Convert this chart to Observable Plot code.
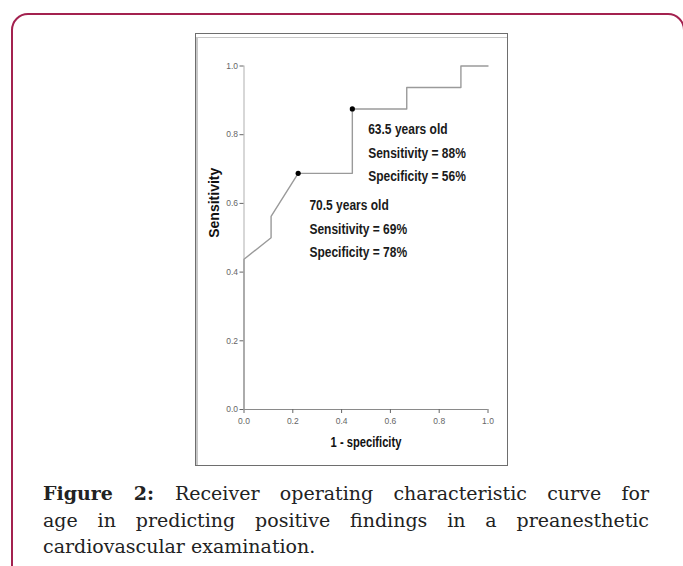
<!DOCTYPE html>
<html>
<head>
<meta charset="utf-8">
<script src="https://cdn.jsdelivr.net/npm/d3@7"></script>
<script src="https://cdn.jsdelivr.net/npm/@observablehq/plot@0.6"></script>
<style>
  html, body { margin: 0; padding: 0; background: #fff; }
  body { position: relative; width: 683px; height: 566px; overflow: hidden; }
  #card { position: absolute; left: 11px; top: 13px; width: 674px; height: 620px;
          border: 2px solid #a3214f; border-radius: 17px; box-sizing: border-box; }
  #frame { position: absolute; left: 195px; top: 33px; width: 313px; height: 433px;
           box-sizing: border-box; border: 1.5px solid #6e6e6e;
           box-shadow: inset 0 3px 0 #fff, inset 0 4px 0 #c8c8c8, inset 2px 0 0 #c8c8c8; }
  #chart { position: absolute; left: 195px; top: 30px; }
  #caption { position: absolute; left: 43px; top: 480px; width: 606px;
             font-family: "DejaVu Serif", serif; font-size: 19px; line-height: 26.5px; color: #222; }
  #caption div { text-align: justify; text-align-last: justify; white-space: nowrap; }
  #caption div.last { text-align-last: left; }
</style>
</head>
<body>
<div id="card"></div>
<div id="frame"></div>
<div id="chart"></div>
<div id="caption"></div>
<script>
// ROC curve points (1 - specificity, sensitivity)
const fpr = [0, 0, 0.111, 0.111, 0.222, 0.444, 0.444, 0.667, 0.667, 0.889, 0.889, 1];
const tpr = [0, 0.4375, 0.5, 0.5625, 0.6875, 0.6875, 0.875, 0.875, 0.9375, 0.9375, 1, 1];

// highlighted cut-off points
const cutAges = ["70.5", "63.5"];
const cutFpr = [0.222, 0.444];
const cutTpr = [0.6875, 0.875];
const cutSens = ["69%", "88%"];
const cutSpec = ["78%", "56%"];
// annotation anchor (data units)
const annX = [0.268, 0.509];
const annY = [0.534, 0.755];

const tickValues = [0, 0.2, 0.4, 0.6, 0.8, 1.0];
const xLabel = "1 - specificity";
const yLabel = "Sensitivity";
const captionBold = "Figure 2:";
const captionLines = [
  "Receiver operating characteristic curve for",
  "age in predicting positive findings in a preanesthetic",
  "cardiovascular examination."
];

const curve = fpr.map((x, i) => ({x, y: tpr[i]}));
const cuts = cutAges.map((a, i) => ({x: cutFpr[i], y: cutTpr[i]}));
const notes = cutAges.map((a, i) => ({
  x: annX[i], y: annY[i],
  text: `${a} years old\nSensitivity = ${cutSens[i]}\nSpecificity = ${cutSpec[i]}`
}));

const sans = "'Liberation Sans', Arial, sans-serif";

const plot = Plot.plot({
  width: 313,
  height: 436,
  marginLeft: 48.5,
  marginRight: 20.5,
  marginTop: 35.5,
  marginBottom: 57,
  style: { background: "transparent", fontFamily: sans, overflow: "visible" },
  x: { domain: [0, 1] },
  y: { domain: [0, 1] },
  marks: [
    Plot.ruleX([0], { y1: 0, y2: 1, stroke: "#bdbdbd", strokeWidth: 1.2 }),
    Plot.ruleY([0], { stroke: "#8a8a8a", strokeWidth: 1.2 }),
    Plot.axisY({ ticks: tickValues, tickFormat: d => d.toFixed(1), tickSize: 4, tickPadding: 2,
                 fontSize: 8.5, color: "#666", label: null }),
    Plot.axisX({ ticks: tickValues, tickFormat: d => d.toFixed(1), tickSize: 4, tickPadding: 4,
                 fontSize: 8.5, color: "#666", label: null }),
    Plot.line(curve, { x: "x", y: "y", stroke: "#9a9a9a", strokeWidth: 1.4 }),
    Plot.dot(cuts, { x: "x", y: "y", r: 2.6, fill: "#000", stroke: "none" }),
    Plot.text(notes, { x: "x", y: "y", text: "text", textAnchor: "start", lineAnchor: "middle",
                       lineHeight: 1.55, fontSize: 15, fontWeight: "bold", fill: "#1a1a1a" }),
    Plot.text([yLabel], { frameAnchor: "left", rotate: -90, dx: -29.5, fontSize: 14,
                          fontWeight: "bold", fill: "#111" }),
    Plot.text([xLabel], { frameAnchor: "bottom", dy: 37, fontSize: 14, fontWeight: "bold",
                          fill: "#111" })
  ]
});
document.getElementById("chart").appendChild(plot);

// condense the annotation / x-label text horizontally (Calibri-like narrow look)
const textGroups = d3.select(plot).selectAll('g[aria-label="text"]').nodes();
[[textGroups[0], 0.8], [textGroups[2], 0.8]].forEach(([g, s]) => {
  if (!g) return;
  d3.select(g).selectAll("text").each(function () {
    const t = this.getAttribute("transform") || "";
    this.setAttribute("transform", `${t} scale(${s},1)`);
  });
});

const cap = document.getElementById("caption");
captionLines.forEach((line, i) => {
  const div = document.createElement("div");
  if (i === captionLines.length - 1) div.className = "last";
  if (i === 0) {
    const b = document.createElement("b");
    b.textContent = captionBold + " ";
    div.appendChild(b);
    div.appendChild(document.createTextNode(line));
  } else {
    div.textContent = line;
  }
  cap.appendChild(div);
});
</script>
</body>
</html>
